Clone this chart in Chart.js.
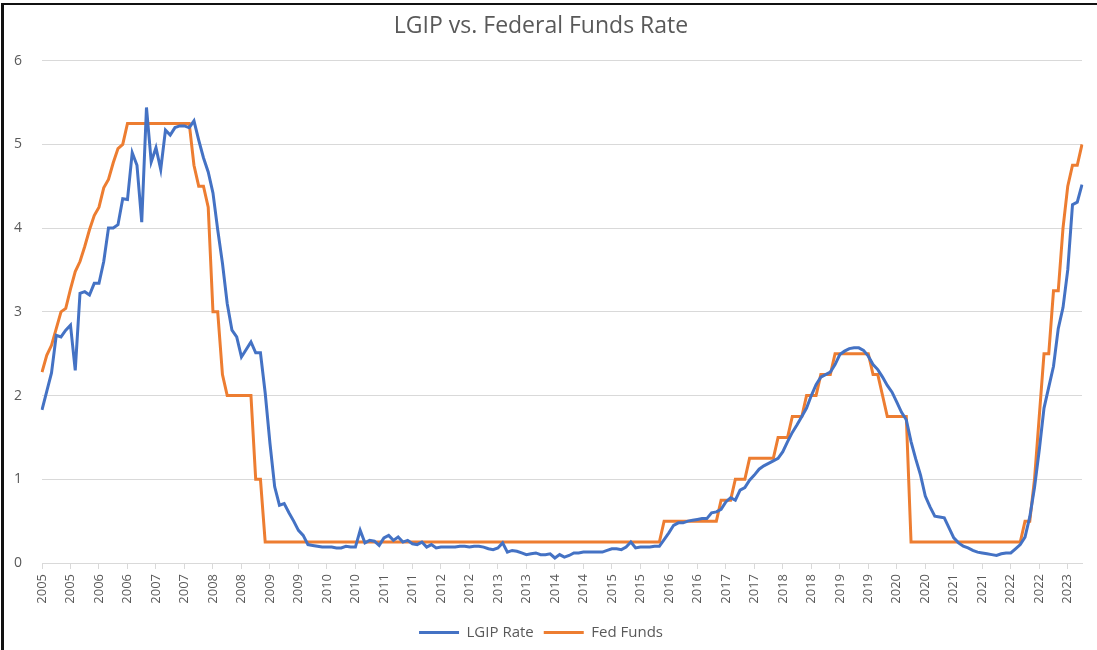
<!DOCTYPE html>
<html>
<head>
<meta charset="utf-8">
<title>LGIP vs. Federal Funds Rate</title>
<script src="https://cdn.jsdelivr.net/npm/chart.js@4.4.0/dist/chart.umd.min.js"></script>
<style>
  html, body { margin: 0; padding: 0; background: #fff; }
  #wrap { position: relative; width: 1097px; height: 650px; }
  #frame { position: absolute; left: 1px; top: 3px; right: 0; bottom: 0;
           border-left: 3px solid #111; border-top: 2px solid #111; pointer-events: none; }
</style>
</head>
<body>
<div id="wrap">
  <canvas id="rateChart" width="1097" height="650"></canvas>
  <div id="frame"></div>
</div>
<script>
// monthly, Jan 2005 .. Apr 2023
const startYear = 2005;
const monthCount = 220;
const months = [];
for (let i = 0; i < monthCount; i++) {
    const y = startYear + Math.floor(i / 12);
    const m = (i % 12) + 1;
    months.push(y + '-' + (m < 10 ? '0' + m : m));
}

// LGIP Rate, one row per year
const lgipRate = [
    1.83, 2.05, 2.27, 2.72, 2.7, 2.78, 2.84, 2.3, 3.22, 3.24, 3.2, 3.34,
    3.34, 3.6, 4.0, 4.0, 4.04, 4.35, 4.34, 4.9, 4.75, 4.07, 5.44, 4.79,
    4.96, 4.7, 5.17, 5.11, 5.2, 5.22, 5.22, 5.2, 5.28, 5.05, 4.84, 4.67,
    4.42, 3.98, 3.58, 3.1, 2.78, 2.7, 2.46, 2.55, 2.64, 2.51, 2.51, 2.03,
    1.43, 0.91, 0.69, 0.71, 0.6, 0.5, 0.39, 0.33, 0.22, 0.21, 0.2, 0.19,
    0.19, 0.19, 0.18, 0.18, 0.2, 0.19, 0.19, 0.39, 0.24, 0.27, 0.26, 0.21,
    0.3, 0.33, 0.27, 0.31, 0.25, 0.27, 0.23, 0.22, 0.25, 0.19, 0.22, 0.18,
    0.19, 0.19, 0.19, 0.19, 0.2, 0.2, 0.19, 0.2, 0.2, 0.19, 0.17, 0.16,
    0.18, 0.24, 0.13, 0.15, 0.14, 0.12, 0.1, 0.11, 0.12, 0.1, 0.1, 0.11,
    0.06, 0.1, 0.07, 0.09, 0.12, 0.12, 0.13, 0.13, 0.13, 0.13, 0.13, 0.15,
    0.17, 0.17, 0.16, 0.19, 0.25, 0.18, 0.19, 0.19, 0.19, 0.2, 0.2, 0.28,
    0.36, 0.45, 0.48, 0.48, 0.5, 0.51, 0.52, 0.53, 0.53, 0.6, 0.61, 0.64,
    0.73, 0.78, 0.75, 0.87, 0.9, 0.99, 1.05, 1.12, 1.16, 1.19, 1.22, 1.25,
    1.33, 1.45, 1.56, 1.65, 1.75, 1.85, 2.0, 2.13, 2.22, 2.25, 2.28, 2.37,
    2.49, 2.53, 2.56, 2.57, 2.57, 2.54, 2.47, 2.37, 2.31, 2.22, 2.12, 2.04,
    1.92, 1.8, 1.71, 1.45, 1.24, 1.05, 0.8, 0.67, 0.56, 0.55, 0.54, 0.42,
    0.3, 0.24, 0.2, 0.18, 0.15, 0.13, 0.12, 0.11, 0.1, 0.09, 0.11, 0.12,
    0.12, 0.17, 0.22, 0.31, 0.55, 0.9, 1.35, 1.85, 2.1, 2.35, 2.8, 3.05,
    3.5, 4.28, 4.31, 4.52
];

// Fed Funds, one row per year
const fedFunds = [
    2.28, 2.48, 2.6, 2.8, 3.0, 3.04, 3.27, 3.48, 3.6, 3.78, 3.98, 4.15,
    4.25, 4.48, 4.58, 4.78, 4.95, 5.0, 5.25, 5.25, 5.25, 5.25, 5.25, 5.25,
    5.25, 5.25, 5.25, 5.25, 5.25, 5.25, 5.25, 5.25, 4.75, 4.5, 4.5, 4.25,
    3.0, 3.0, 2.25, 2.0, 2.0, 2.0, 2.0, 2.0, 2.0, 1.0, 1.0, 0.25,
    0.25, 0.25, 0.25, 0.25, 0.25, 0.25, 0.25, 0.25, 0.25, 0.25, 0.25, 0.25,
    0.25, 0.25, 0.25, 0.25, 0.25, 0.25, 0.25, 0.25, 0.25, 0.25, 0.25, 0.25,
    0.25, 0.25, 0.25, 0.25, 0.25, 0.25, 0.25, 0.25, 0.25, 0.25, 0.25, 0.25,
    0.25, 0.25, 0.25, 0.25, 0.25, 0.25, 0.25, 0.25, 0.25, 0.25, 0.25, 0.25,
    0.25, 0.25, 0.25, 0.25, 0.25, 0.25, 0.25, 0.25, 0.25, 0.25, 0.25, 0.25,
    0.25, 0.25, 0.25, 0.25, 0.25, 0.25, 0.25, 0.25, 0.25, 0.25, 0.25, 0.25,
    0.25, 0.25, 0.25, 0.25, 0.25, 0.25, 0.25, 0.25, 0.25, 0.25, 0.25, 0.5,
    0.5, 0.5, 0.5, 0.5, 0.5, 0.5, 0.5, 0.5, 0.5, 0.5, 0.5, 0.75,
    0.75, 0.75, 1.0, 1.0, 1.0, 1.25, 1.25, 1.25, 1.25, 1.25, 1.25, 1.5,
    1.5, 1.5, 1.75, 1.75, 1.75, 2.0, 2.0, 2.0, 2.25, 2.25, 2.25, 2.5,
    2.5, 2.5, 2.5, 2.5, 2.5, 2.5, 2.5, 2.25, 2.25, 2.0, 1.75, 1.75,
    1.75, 1.75, 1.75, 0.25, 0.25, 0.25, 0.25, 0.25, 0.25, 0.25, 0.25, 0.25,
    0.25, 0.25, 0.25, 0.25, 0.25, 0.25, 0.25, 0.25, 0.25, 0.25, 0.25, 0.25,
    0.25, 0.25, 0.25, 0.5, 0.5, 1.0, 1.75, 2.5, 2.5, 3.25, 3.25, 4.0,
    4.5, 4.75, 4.75, 5.0
];

// a year label every 6 months
const tickEvery = 6;

const gridColor = '#d9d9d9';
const textColor = '#595959';
const fontFamily = '"Open Sans", "Noto Sans", sans-serif';

const ctx = document.getElementById('rateChart').getContext('2d');
new Chart(ctx, {
    type: 'line',
    data: {
        labels: months,
        datasets: [{
            label: 'LGIP Rate',
            data: lgipRate,
            borderColor: '#4472C4',
            backgroundColor: '#4472C4',
            borderWidth: 3,
            pointRadius: 0,
            tension: 0,
            fill: false
        }, {
            label: 'Fed Funds',
            data: fedFunds,
            borderColor: '#ED7D31',
            backgroundColor: '#ED7D31',
            borderWidth: 3,
            pointRadius: 0,
            tension: 0,
            fill: false
        }]
    },
    options: {
        responsive: false,
        animation: false,
        devicePixelRatio: 1,
        layout: { padding: { left: 0, right: 15, top: 0, bottom: 0 } },
        plugins: {
            title: {
                display: true,
                text: 'LGIP vs. Federal Funds Rate',
                color: textColor,
                font: { family: fontFamily, size: 23, weight: 'normal' },
                padding: { top: 13, bottom: 20 }
            },
            legend: {
                position: 'bottom',
                labels: {
                    color: textColor,
                    font: { family: fontFamily, size: 15 },
                    usePointStyle: true,
                    pointStyle: 'line',
                    pointStyleWidth: 40,
                    padding: 10
                }
            },
            tooltip: { enabled: false }
        },
        scales: {
            x: {
                ticks: {
                    autoSkip: false,
                    minRotation: 90,
                    maxRotation: 90,
                    padding: 5,
                    color: textColor,
                    font: { family: fontFamily, size: 13 },
                    callback: function (value, index) {
                        if (index % tickEvery !== 0) return null;
                        return this.getLabelForValue(value).slice(0, 4);
                    }
                },
                grid: {
                    drawOnChartArea: false,
                    drawTicks: true,
                    tickLength: 6,
                    color: gridColor
                },
                border: { display: true, color: gridColor },
                afterFit: function (scale) { scale.height = 52; }
            },
            y: {
                min: 0,
                max: 6,
                ticks: {
                    stepSize: 1,
                    padding: 20,
                    color: textColor,
                    font: { family: fontFamily, size: 14 }
                },
                grid: { color: gridColor, drawTicks: false },
                border: { display: false },
                afterFit: function (scale) { scale.width = 42; }
            }
        }
    }
});
</script>
</body>
</html>
